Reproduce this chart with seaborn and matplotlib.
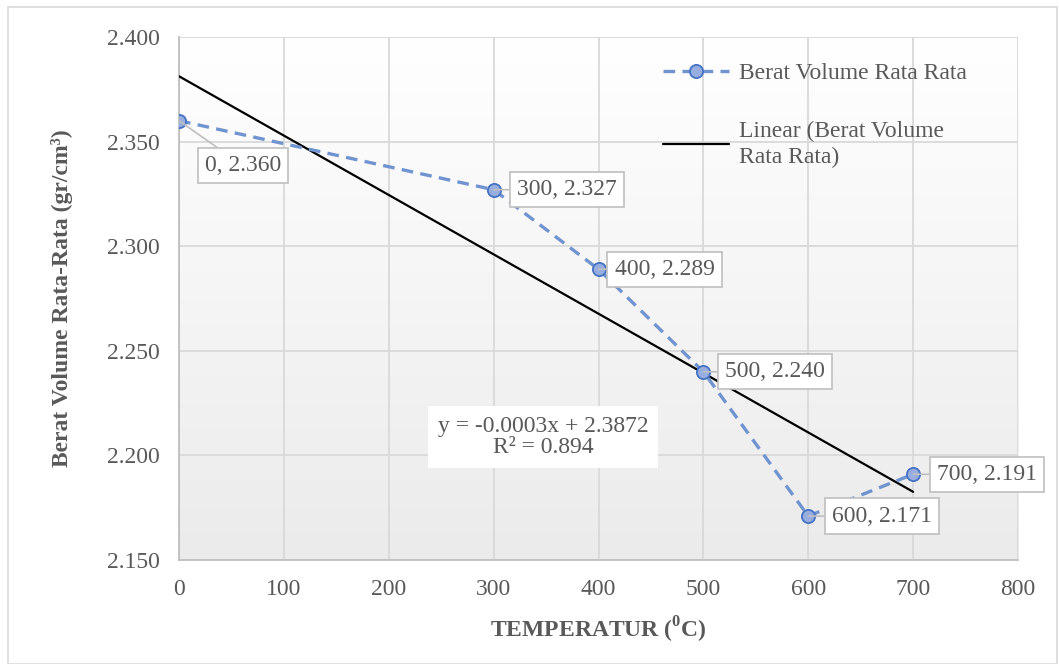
import numpy as np
import pandas as pd
import matplotlib
matplotlib.use("Agg")
import matplotlib.pyplot as plt
import seaborn as sns
from matplotlib.colors import LinearSegmentedColormap
from matplotlib.patches import Rectangle

# ---- data ----
temperatures = [0, 300, 400, 500, 600, 700]
berat_volume = [2.360, 2.327, 2.289, 2.240, 2.171, 2.191]
x_ticks = [0, 100, 200, 300, 400, 500, 600, 700, 800]
y_ticks = [2.150, 2.200, 2.250, 2.300, 2.350, 2.400]
series_name = "Berat Volume Rata Rata"
trend_name = "Linear (Berat Volume\nRata Rata)"
equation_text = "y = -0.0003x + 2.3872\nR² = 0.894"

df = pd.DataFrame({"temp": temperatures, "bv": berat_volume})

sns.set_theme(style="white")
plt.rcParams["font.family"] = ["Liberation Serif", "DejaVu Serif"]
plt.rcParams["mathtext.fontset"] = "custom"
plt.rcParams["mathtext.rm"] = "Liberation Serif"
plt.rcParams["mathtext.bf"] = "Liberation Serif:bold"

TXT = "#595959"
GRID = "#d9d9d9"
FS = 17

fig = plt.figure(figsize=(10.59, 6.64), dpi=100)
fig.patches.append(Rectangle((8 / 1059, 0), (1057 - 8) / 1059, (664 - 7) / 664,
                             transform=fig.transFigure, fill=False,
                             edgecolor="#d9d9d9", linewidth=1.2))
ax = fig.add_axes([179 / 1059, 1 - 560 / 664, (1018 - 179) / 1059, (560 - 37) / 664])

# gradient background
cmap = LinearSegmentedColormap.from_list("bg", ["#ebebeb", "#ffffff"])
ax.imshow(np.linspace(0, 1, 256)[:, None], extent=(0, 1, 0, 1), transform=ax.transAxes,
          cmap=cmap, aspect="auto", origin="lower", zorder=0)
ax.set_facecolor("none")

# trend line
n_before = len(ax.lines)
sns.regplot(data=df, x="temp", y="bv", ax=ax, scatter=False, ci=None, truncate=True,
            line_kws=dict(color="black", linewidth=1.6, zorder=3))
trend_line = ax.lines[n_before]
trend_line.set_label(trend_name)

# data series
n_before = len(ax.lines)
sns.lineplot(data=df, x="temp", y="bv", ax=ax, color="#7094d0", linewidth=2.4,
             linestyle=(0, (3.5, 2.2)), marker="o", markersize=9.5,
             markerfacecolor="#98ade0", markeredgecolor="#4472c4", markeredgewidth=1.3,
             zorder=4)
data_line = ax.lines[n_before]
data_line.set_label(series_name)

ax.set_xlim(0, 800)
ax.set_ylim(2.150, 2.400)
ax.set_xticks(x_ticks)
ax.set_yticks(y_ticks)
ax.set_xticklabels([str(t) for t in x_ticks])
ax.set_yticklabels([f"{t:.3f}" for t in y_ticks])
ax.tick_params(axis="both", labelsize=FS, colors=TXT, length=0)
ax.tick_params(axis="y", pad=14)
ax.tick_params(axis="x", pad=14)
ax.set_axisbelow(True)
ax.grid(True, color=GRID, linewidth=1.3)
for s in ["top", "right"]:
    ax.spines[s].set_visible(False)
for s in ["left", "bottom"]:
    ax.spines[s].set_color("#bfbfbf")
    ax.spines[s].set_linewidth(1.3)

ax.set_xlabel(r"TEMPERATUR ($^{\mathbf{0}}$C)", fontsize=FS, fontweight="bold",
              color=TXT, labelpad=10)
ax.set_ylabel("Berat Volume Rata-Rata (gr/cm³)", fontsize=FS, fontweight="bold",
              color=TXT, labelpad=24)

# data labels
offsets = [(64, -45), (73, 0), (66, 0), (72, 0), (74, 0), (74, 0)]
for (xv, yv), off in zip(zip(temperatures, berat_volume), offsets):
    ax.annotate(f"{xv}, {yv:.3f}", xy=(xv, yv), xytext=off, textcoords="offset pixels",
                ha="center", va="center", fontsize=FS, color=TXT, zorder=6,
                bbox=dict(boxstyle="square,pad=0.3", facecolor="white",
                          edgecolor="#bfbfbf", linewidth=1.2),
                arrowprops=dict(arrowstyle="-", color="#bfbfbf", linewidth=1.2,
                                shrinkA=0, shrinkB=0))

# equation
ax.text(0.434, 0.235, equation_text, transform=ax.transAxes, ha="center", va="center",
        fontsize=FS, color=TXT, linespacing=1.05, zorder=5,
        bbox=dict(boxstyle="square,pad=0.4", facecolor="white", edgecolor="none"))

# legend
leg = ax.legend([data_line, trend_line], [series_name, trend_name], loc="upper left",
                bbox_to_anchor=(0.552, 0.992), frameon=False, fontsize=FS,
                handlelength=2.8, handletextpad=0.4, labelspacing=1.55)
for t in leg.get_texts():
    t.set_color(TXT)
    t.set_linespacing(1.35)

fig.savefig("out.png", dpi=100)
